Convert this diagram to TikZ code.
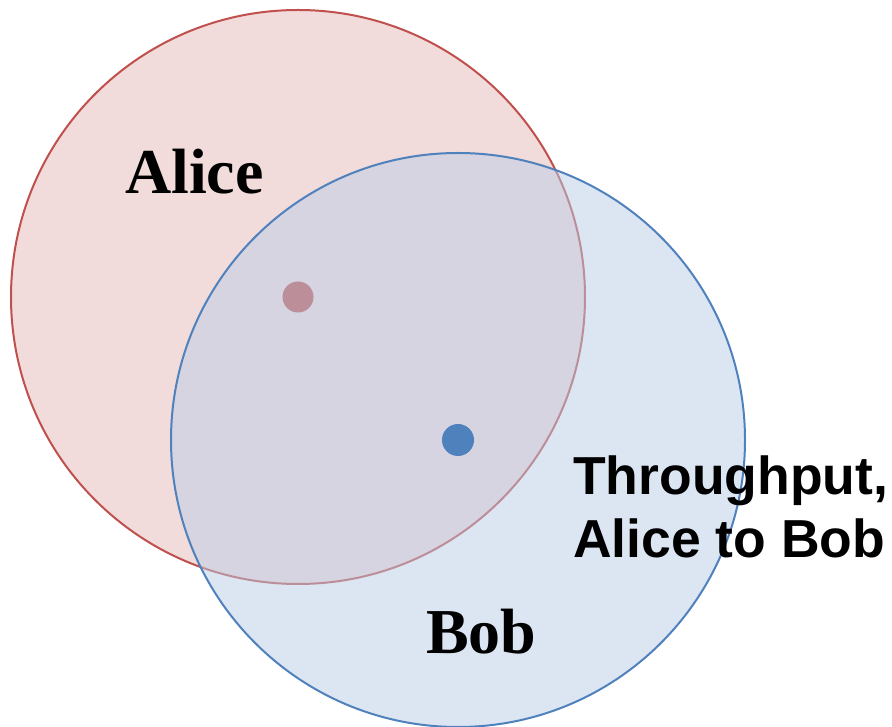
\documentclass[tikz,border=0pt]{standalone}
\usepackage{fontspec}
\setmainfont{Liberation Serif}
\newfontfamily\arialfont{Liberation Sans}
\definecolor{redline}{HTML}{C0504D}
\definecolor{redfill}{HTML}{F2DCDB}
\definecolor{blueline}{HTML}{4F81BD}
\definecolor{bluefill}{HTML}{B9CDE5}
\tikzset{
  namelabel/.style={font=\fontsize{64}{72}\selectfont\bfseries, inner sep=0pt, anchor=base west},
  sidelabel/.style={font=\arialfont\fontsize{53.5}{63}\selectfont\bfseries, inner sep=0pt, anchor=base west},
}
\begin{document}
\begin{tikzpicture}[x=1pt,y=1pt]
\useasboundingbox (0,0) rectangle (892,726);
% Alice circle
\fill[redfill] (298,429) circle[radius=287];
\fill[redline] (298,429) circle[radius=15.5];
\draw[redline, line width=2pt] (298,429) circle[radius=287];
% Bob circle (semi-transparent fill)
\fill[bluefill, fill opacity=0.5] (458,286) circle[radius=287];
\draw[blueline, line width=2pt] (458,286) circle[radius=287];
\fill[blueline] (458,286) circle[radius=16];
% labels
\node[namelabel] (alice) at (125,532) {Alice};
\node[namelabel] (bob) at (426,72) {Bob};
\node[sidelabel] (thr1) at (573,231) {Throughput,};
\node[sidelabel] (thr2) at (573,168) {Alice to Bob};
\end{tikzpicture}
\end{document}
